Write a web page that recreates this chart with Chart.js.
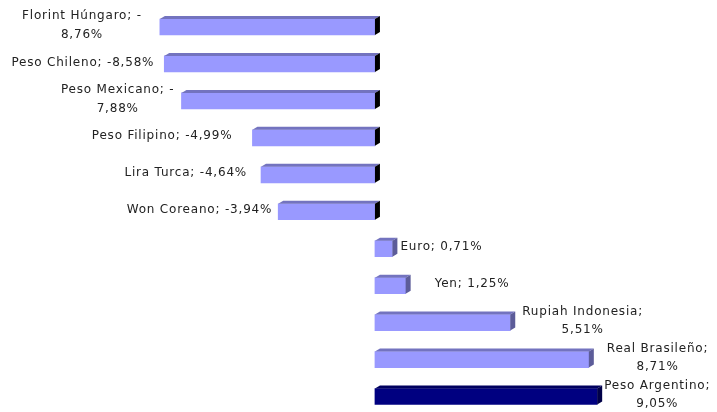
<!DOCTYPE html>
<html>
<head>
<meta charset="utf-8">
<script src="https://cdn.jsdelivr.net/npm/chart.js@4.4.1/dist/chart.umd.min.js"></script>
<style>
  html, body { margin: 0; padding: 0; background: #fff; }
</style>
</head>
<body>
<canvas id="chartMonedas" width="717" height="412"></canvas>
<script>
var monedas = ['Florint Húngaro', 'Peso Chileno', 'Peso Mexicano', 'Peso Filipino', 'Lira Turca',
  'Won Coreano', 'Euro', 'Yen', 'Rupiah Indonesia', 'Real Brasileño', 'Peso Argentino'];
var variacion = [-8.76, -8.58, -7.88, -4.99, -4.64, -3.94, 0.71, 1.25, 5.51, 8.71, 9.05];
// label text as excel wrapped it
var etiquetas = [
  ['Florint Húngaro; -', '8,76%'],
  ['Peso Chileno; -8,58%'],
  ['Peso Mexicano; -', '7,88%'],
  ['Peso Filipino; -4,99%'],
  ['Lira Turca; -4,64%'],
  ['Won Coreano; -3,94%'],
  ['Euro; 0,71%'],
  ['Yen; 1,25%'],
  ['Rupiah Indonesia;', '5,51%'],
  ['Real Brasileño;', '8,71%'],
  ['Peso Argentino;', '9,05%']
];
var destacada = 'Peso Argentino';

// gap between bar end and its label (px)
var labelGap = [18, 10, 7, 20, 14, 6, 3, 24, 7, 13, 2];

var colores = monedas.map(function (m) { return m === destacada ? '#000080' : '#9999FF'; });
var coloresTapa = monedas.map(function (m) { return m === destacada ? '#00005E' : '#7373BF'; });
var coloresLado = monedas.map(function (m) { return m === destacada ? '#000048' : '#5C5C99'; });

var DX = 5, DY = 3;

var barras3d = {
  id: 'barras3d',
  afterDatasetsDraw: function (chart) {
    var ctx = chart.ctx;
    var meta = chart.getDatasetMeta(0);
    ctx.save();
    meta.data.forEach(function (el, i) {
      var p = el.getProps(['x', 'y', 'base', 'height'], true);
      var left = Math.min(p.x, p.base), right = Math.max(p.x, p.base);
      var top = p.y - p.height / 2, bottom = p.y + p.height / 2;
      // top face
      ctx.fillStyle = coloresTapa[i];
      ctx.beginPath();
      ctx.moveTo(left, top);
      ctx.lineTo(left + DX, top - DY);
      ctx.lineTo(right + DX, top - DY);
      ctx.lineTo(right, top);
      ctx.closePath();
      ctx.fill();
      // end face, black when the end sits on the zero line
      ctx.fillStyle = variacion[i] < 0 ? '#000000' : coloresLado[i];
      ctx.beginPath();
      ctx.moveTo(right, top);
      ctx.lineTo(right + DX, top - DY);
      ctx.lineTo(right + DX, bottom - DY);
      ctx.lineTo(right, bottom);
      ctx.closePath();
      ctx.fill();

      // data label
      var lines = etiquetas[i];
      ctx.font = '12px "DejaVu Sans"';
      ctx.letterSpacing = '0.8px';
      var w = 0;
      lines.forEach(function (t) { w = Math.max(w, ctx.measureText(t).width); });
      var cx = variacion[i] < 0 ? left - labelGap[i] - w / 2 : right + DX + labelGap[i] + w / 2;
      var lh = 18.5;
      var y0 = p.y - 1.5 - (lines.length - 1) * lh / 2;
      ctx.fillStyle = '#222222';
      ctx.textAlign = 'center';
      ctx.textBaseline = 'middle';
      lines.forEach(function (t, k) { ctx.fillText(t, cx, y0 + k * lh); });
    });
    ctx.restore();
  }
};

var ctx = document.getElementById('chartMonedas').getContext('2d');
var chartMonedas = new Chart(ctx, {
  type: 'bar',
  data: {
    labels: monedas,
    datasets: [{
      label: 'Variación',
      data: variacion,
      backgroundColor: colores,
      borderWidth: 0,
      barThickness: 16,
      clip: false
    }]
  },
  options: {
    indexAxis: 'y',
    responsive: false,
    animation: false,
    layout: { padding: { top: 27, bottom: 15.5, left: 0, right: 0 } },
    plugins: { legend: { display: false }, tooltip: { enabled: false } },
    scales: {
      x: { type: 'linear', min: -15.27, max: 13.93, display: false },
      y: { display: false, offset: false }
    }
  },
  plugins: [barras3d]
});
</script>
</body>
</html>
